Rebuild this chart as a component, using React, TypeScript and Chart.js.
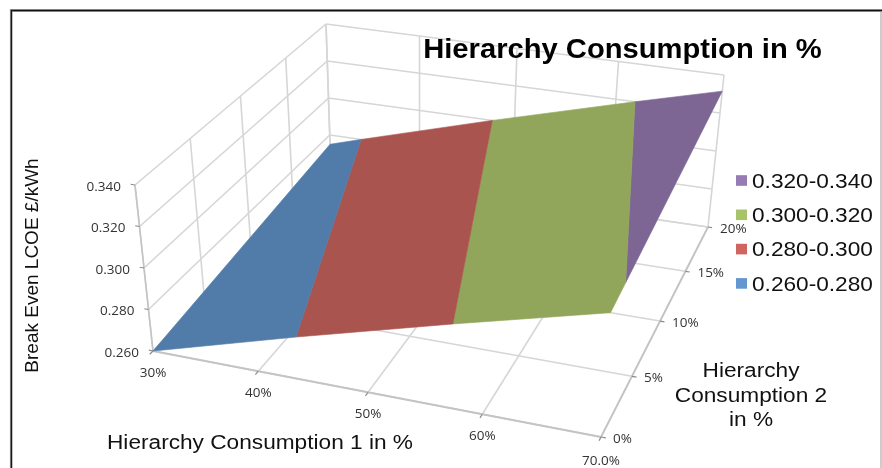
import React, { useEffect, useRef } from "react";
import { Chart, registerables } from "chart.js";

Chart.register(...registerables);

// Axis values of the 3D surface chart
const consumption1 = [30, 40, 50, 60, 70];
const consumption1Labels = ["30%", "40%", "50%", "60%", "70.0%"];
const consumption2 = [0, 5, 10, 15, 20];
const consumption2Labels = ["0%", "5%", "10%", "15%", "20%"];
const lcoeTicks = [0.26, 0.28, 0.3, 0.32, 0.34];
const lcoeLabels = ["0.260", "0.280", "0.300", "0.320", "0.340"];

// Break-even LCOE at the surface's corners: [consumption1, consumption2, lcoe]
const surfaceCorners = [
  [30, 0, 0.26],
  [70, 0, 0.3185],
  [70, 20, 0.3315],
  [30, 20, 0.275],
];

// Colour bands, lowest first
const bandNames = ["0.260-0.280", "0.280-0.300", "0.300-0.320", "0.320-0.340"];
const bandFill = ["#517ba8", "#aa544f", "#92a65b", "#7e6694"];
const bandKey = ["#6298cf", "#cf6560", "#a9c468", "#977bb4"];

const GRID = "#d6d6d6";
const EDGE = "#c4c4c4";
const TICK = "#8c8c8c";
const TICK_TEXT = "#333333";
const TICK_FONT = "13.5px 'Open Sans'";
const LABEL_FONT = "20px 'Liberation Sans'";

// Screen placement of the plot box, floor and ceiling corners
const floorBox = [[153, 351], [601, 437], [708, 227], [331, 172]];
const roofBox = [[135, 185], [614, 267], [724, 75], [326, 24]];

const lerp = (a: number, b: number, t: number) => a + (b - a) * t;

function project(c1: number, c2: number, lcoe: number) {
  const s = (c1 - 30) / 40;
  const t = (c2 - 0) / 20;
  const w = (lcoe - 0.26) / 0.08;
  // foreshortening along both floor directions
  const u = 0.92 * s + 0.08 * s * s;
  const v = 1.208 * t - 0.208 * t * t;
  const plane = (q: number[][], i: number) =>
    lerp(lerp(q[0][i], q[1][i], u), lerp(q[3][i], q[2][i], u), v);
  return {
    x: lerp(plane(floorBox, 0), plane(roofBox, 0), w),
    y: lerp(plane(floorBox, 1), plane(roofBox, 1), w),
  };
}

// Keeps the part of a polygon on one side of an LCOE level
function clipLevel(poly: number[][], level: number, keepAbove: boolean) {
  const out: number[][] = [];
  const inside = (p: number[]) => (keepAbove ? p[2] >= level : p[2] <= level);
  poly.forEach((p, i) => {
    const q = poly[(i + 1) % poly.length];
    if (inside(p)) out.push(p);
    if (inside(p) !== inside(q)) {
      const f = (level - p[2]) / (q[2] - p[2]);
      out.push([lerp(p[0], q[0], f), lerp(p[1], q[1], f), level]);
    }
  });
  return out;
}

function bandPolygon(i: number) {
  const poly = clipLevel(clipLevel(surfaceCorners, lcoeTicks[i], true), lcoeTicks[i + 1], false);
  const pts = poly.map((p) => project(p[0], p[1], p[2]));
  return pts.concat(pts.slice(0, 1));
}

function segment(a: number[], b: number[], color = GRID, width = 1.6) {
  return {
    type: "scatter" as const,
    data: [project(a[0], a[1], a[2]), project(b[0], b[1], b[2])],
    showLine: true,
    borderColor: color,
    borderWidth: width,
    pointRadius: 0,
    fill: false,
  };
}

function buildDatasets() {
  const zLow = lcoeTicks[0];
  const zHigh = lcoeTicks[lcoeTicks.length - 1];
  const surfaces = bandNames.map((name, i) => ({
    type: "scatter" as const,
    label: name,
    data: bandPolygon(i),
    showLine: true,
    borderColor: bandFill[i],
    backgroundColor: bandFill[i],
    borderWidth: 0.6,
    pointRadius: 0,
    fill: "shape",
  }));
  // Datasets paint last-to-first, so tick marks and outer edges go ahead of the grid
  const marks: ReturnType<typeof segment>[] = [];
  const lines: ReturnType<typeof segment>[] = [];
  consumption1.forEach((c) => {
    marks.push(segment([c, -0.3, zLow], [c, 0, zLow], TICK, 1.2));
    lines.push(segment([c, 0, zLow], [c, 20, zLow]));
    lines.push(segment([c, 20, zLow], [c, 20, zHigh]));
  });
  consumption2.forEach((c) => {
    marks.push(segment([70, c, zLow], [70.4, c, zLow], TICK, 1.2));
    lines.push(segment([30, c, zLow], [70, c, zLow]));
    lines.push(segment([30, c, zLow], [30, c, zHigh]));
  });
  lcoeTicks.forEach((z) => {
    marks.push(segment([29.6, 0, z], [30, 0, z], TICK, 1.2));
    lines.push(segment([30, 0, z], [30, 20, z]));
    lines.push(segment([30, 20, z], [70, 20, z]));
  });
  marks.push(segment([30, 0, zLow], [70, 0, zLow], EDGE, 1.8));
  marks.push(segment([70, 0, zLow], [70, 20, zLow], EDGE, 1.8));
  marks.push(segment([30, 0, zLow], [30, 0, zHigh], EDGE, 1.6));
  return [...surfaces, ...marks, ...lines];
}

const annotations = {
  id: "annotations",
  beforeDraw(chart: Chart) {
    const { ctx, width, height } = chart;
    ctx.save();
    ctx.fillStyle = "#ffffff";
    ctx.fillRect(0, 0, width, height);
    ctx.restore();
  },
  afterDraw(chart: Chart) {
    const { ctx } = chart;
    const sx = chart.scales.x;
    const sy = chart.scales.y;
    const text = (
      s: string,
      x: number,
      y: number,
      font: string,
      color: string,
      align: CanvasTextAlign = "center",
      stretch = 1,
    ) => {
      ctx.save();
      ctx.translate(x, y);
      ctx.scale(stretch, 1);
      ctx.font = font;
      ctx.fillStyle = color;
      ctx.textAlign = align;
      ctx.textBaseline = "middle";
      ctx.fillText(s, 0, 0);
      ctx.restore();
    };
    ctx.save();

    // frame: soft grey under a dark core
    const frame = (color: string, width: number) => {
      ctx.strokeStyle = color;
      ctx.lineWidth = width;
      ctx.beginPath();
      ctx.moveTo(11.3, 468);
      ctx.lineTo(11.3, 10.5);
      ctx.lineTo(882, 10.5);
      ctx.stroke();
    };
    frame("#a8a8a8", 2.8);
    frame("#111111", 1.3);
    ctx.strokeStyle = "#9a9a9a";
    ctx.lineWidth = 1;
    ctx.beginPath();
    ctx.moveTo(881, 11);
    ctx.lineTo(881, 468);
    ctx.stroke();

    // tick labels follow the projected axis positions
    const at = (c1: number, c2: number, z: number) => {
      const p = project(c1, c2, z);
      return { x: sx.getPixelForValue(p.x), y: sy.getPixelForValue(p.y) };
    };
    lcoeTicks.forEach((z, i) => {
      const p = at(30, 0, z);
      text(lcoeLabels[i], p.x - 14, p.y + 2, TICK_FONT, TICK_TEXT, "right");
    });
    consumption1.forEach((c, i) => {
      const p = at(c, 0, lcoeTicks[0]);
      text(consumption1Labels[i], p.x, p.y + (i === 4 ? 24 : 22), TICK_FONT, TICK_TEXT);
    });
    consumption2.forEach((c, i) => {
      const p = at(70, c, lcoeTicks[0]);
      text(consumption2Labels[i], p.x + 12, p.y + 2, TICK_FONT, TICK_TEXT, "left");
    });

    // titles
    text("Hierarchy Consumption in %", 622.5, 51, "bold 27px 'Liberation Sans'", "#000000", "center", 1.08);
    text("Hierarchy Consumption 1 in %", 260, 443, LABEL_FONT, "#111111", "center", 1.133);
    text("Hierarchy", 751, 371, LABEL_FONT, "#111111", "center", 1.133);
    text("Consumption 2", 751, 396, LABEL_FONT, "#111111", "center", 1.133);
    text("in %", 751, 420, LABEL_FONT, "#111111", "center", 1.133);
    ctx.save();
    ctx.translate(33, 265.5);
    ctx.rotate(-Math.PI / 2);
    text("Break Even LCOE £/kWh", 0, 0, "19px 'Liberation Sans'", "#111111");
    ctx.restore();

    // legend, highest band on top
    [3, 2, 1, 0].forEach((band, row) => {
      const y = 180.5 + row * 34.3;
      ctx.fillStyle = bandKey[band];
      ctx.fillRect(736, y - 5.3, 11, 10.6);
      text(bandNames[band], 752, y + 1.5, "20.5px 'Liberation Sans'", "#111111", "left", 1.105);
    });
    ctx.restore();
  },
};

export default function App() {
  const ref = useRef<HTMLCanvasElement>(null);
  useEffect(() => {
    if (!ref.current) return;
    const chart = new Chart(ref.current, {
      type: "scatter",
      data: { datasets: buildDatasets() as any },
      options: {
        animation: false,
        responsive: false,
        layout: { padding: 0 },
        plugins: { legend: { display: false }, tooltip: { enabled: false } },
        scales: {
          x: { type: "linear", min: 0, max: 882, display: false },
          y: { type: "linear", min: 0, max: 468, reverse: true, display: false },
        },
      },
      plugins: [annotations],
    });
    return () => chart.destroy();
  }, []);
  return (
    <div style={{ position: "fixed", left: 0, top: 0, width: 882, height: 468 }}>
      <canvas ref={ref} width={882} height={468} style={{ display: "block" }} />
    </div>
  );
}
